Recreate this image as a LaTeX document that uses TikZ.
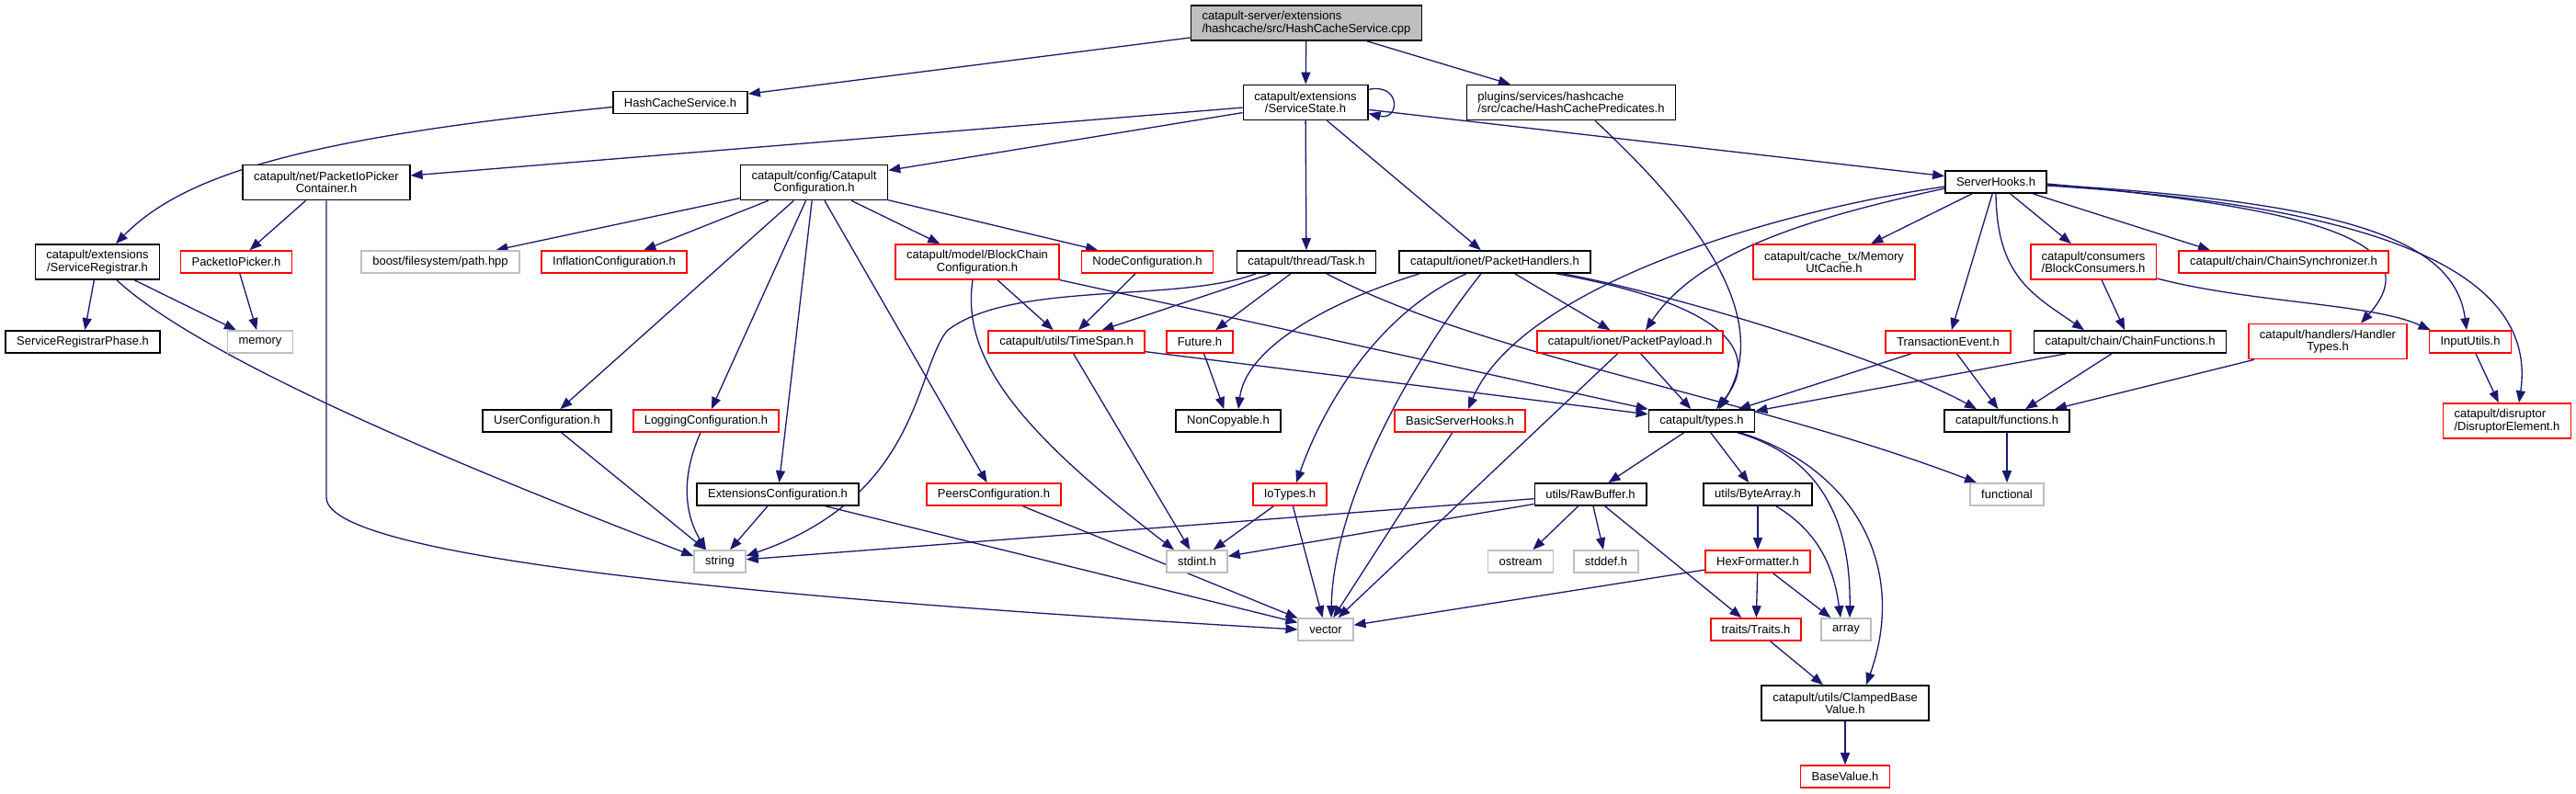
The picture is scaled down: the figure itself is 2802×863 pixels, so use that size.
\documentclass[tikz,border=0pt]{standalone}
\usepackage{fontspec}
\setmainfont{Liberation Sans}
\usetikzlibrary{arrows.meta,calc}
\definecolor{edgec}{HTML}{191970}
\definecolor{grayb}{HTML}{BFBFBF}
\definecolor{redb}{HTML}{FF0000}
\newcommand\nfont{\fontsize{6.5pt}{6.65pt}\selectfont}
\pgfdeclarelayer{bg}
\pgfsetlayers{bg,main}
\tikzset{
  nb/.style={draw, line width=0.85pt, fill=white, inner xsep=6pt, inner ysep=1pt,
             minimum height=12pt, font=\nfont, text=black, align=center},
  blk/.style={nb, draw=black},
  rd/.style={nb, draw=redb},
  gr/.style={nb, draw=grayb},
  two/.style={minimum height=19pt},
  lft/.style={align=left},
  e/.style={draw=edgec, line width=0.65pt, -{Triangle[length=6.5pt,width=5pt]}},
}
\begin{document}
\begin{tikzpicture}[x=0.5pt,y=-0.5pt]
\useasboundingbox (0,0) rectangle (2802,863);
% row 0
\node[blk,two,lft,fill=grayb] (root) at (1421,25) {catapult-server/extensions\\/hashcache/src/HashCacheService.cpp};
% row 1
\node[blk] (hcs) at (740,111.5) {HashCacheService.h};
\node[blk,two] (ss) at (1420,111.5) {catapult/extensions\\/ServiceState.h};
\node[blk,two,lft] (hcp) at (1709,111.5) {plugins/services/hashcache\\/src/cache/HashCachePredicates.h};
% row 2
\node[blk,two] (pipc) at (355,198.5) {catapult/net/PacketIoPicker\\Container.h};
\node[blk,two] (cc) at (885.5,198.5) {catapult/config/Catapult\\Configuration.h};
\node[blk] (sh) at (2171,198) {ServerHooks.h};
% row 3
\node[blk,two] (sr) at (106,285) {catapult/extensions\\/ServiceRegistrar.h};
\node[rd] (pip) at (257,285) {PacketIoPicker.h};
\node[gr] (boost) at (479,285) {boost/filesystem/path.hpp};
\node[rd] (infl) at (668,285) {InflationConfiguration.h};
\node[rd,two] (bcc) at (1063,285) {catapult/model/BlockChain\\Configuration.h};
\node[rd] (nodec) at (1248,285) {NodeConfiguration.h};
\node[blk] (task) at (1421,285) {catapult/thread/Task.h};
\node[blk] (ph) at (1626,285) {catapult/ionet/PacketHandlers.h};
\node[rd,two] (mutc) at (1995,285) {catapult/cache\_tx/Memory\\UtCache.h};
\node[rd,two,lft] (bcons) at (2277,285) {catapult/consumers\\/BlockConsumers.h};
\node[rd] (csync) at (2484,285) {catapult/chain/ChainSynchronizer.h};
% row 4
\node[blk] (srp) at (90,372) {ServiceRegistrarPhase.h};
\node[gr] (mem) at (283,372) {memory};
\node[rd] (ts) at (1160,372) {catapult/utils/TimeSpan.h};
\node[rd] (fut) at (1305,372) {Future.h};
\node[rd] (pp) at (1773,372) {catapult/ionet/PacketPayload.h};
\node[rd] (te) at (2119,372) {TransactionEvent.h};
\node[blk] (cf) at (2317,372) {catapult/chain/ChainFunctions.h};
\node[rd,two] (ht) at (2532,371.5) {catapult/handlers/Handler\\Types.h};
\node[rd] (iu) at (2687,372) {InputUtils.h};
% row 5
\node[blk] (uc) at (595,458) {UserConfiguration.h};
\node[rd] (lc) at (768,458) {LoggingConfiguration.h};
\node[blk] (nc) at (1336,458) {NonCopyable.h};
\node[rd] (bsh) at (1588,458) {BasicServerHooks.h};
\node[blk] (types) at (1851,458) {catapult/types.h};
\node[blk] (fn) at (2183,458) {catapult/functions.h};
\node[rd,two,lft] (de) at (2727,458) {catapult/disruptor\\/DisruptorElement.h};
% row 6
\node[blk] (ec) at (846,538) {ExtensionsConfiguration.h};
\node[rd] (pc) at (1081,538) {PeersConfiguration.h};
\node[rd] (iot) at (1403,538) {IoTypes.h};
\node[blk] (rb) at (1730,538) {utils/RawBuffer.h};
\node[blk] (ba) at (1912,538) {utils/ByteArray.h};
\node[gr] (fnl) at (2183,538) {functional};
% row 7
\node[gr] (str) at (783,611) {string};
\node[gr] (sint) at (1302,611) {stdint.h};
\node[gr] (ost) at (1654,611) {ostream};
\node[gr] (sdef) at (1747,611) {stddef.h};
\node[rd] (hf) at (1912,611) {HexFormatter.h};
% row 8
\node[gr] (vec) at (1442,685) {vector};
\node[rd] (tr) at (1910,685) {traits/Traits.h};
\node[gr] (arr) at (2008,685) {array};
% row 9
\node[blk,two] (cbv) at (2007,765) {catapult/utils/ClampedBase\\Value.h};
\node[rd] (bv) at (2007,845) {BaseValue.h};

\begin{pgfonlayer}{bg}
% root
\draw[e] (root) -- (hcs);
\draw[e] (root) -- (ss);
\draw[e] (root) -- (hcp);
\draw[e] ($(hcs.west)+(0,5)$) .. controls (330,150) and (200,190) .. ($(sr.north)+(20,0)$);
% ServiceState
\draw[e] ($(ss.east)+(0,-14)$) .. controls +(35,-8) and +(35,8) .. ($(ss.east)+(0,12)$);
\draw[e] (ss) -- (pipc);
\draw[e] (ss) -- (cc);
\draw[e] (ss) -- (task);
\draw[e] (ss) -- (ph);
\draw[e] (ss) -- (sh);
\draw[e] ($(hcp.south)+(26,0)$) .. controls (1830,220) and (1935,340) .. ($(types.north)+(19,0)$);
% PacketIoPicker container
\draw[e] (pipc) -- (pip);
\draw[e] (pipc.south) -- ++(0,323) .. controls +(0,70) and (900,655) .. (vec.west);
% ServiceRegistrar
\draw[e] (sr) -- (srp);
\draw[e] (sr) -- (mem);
\draw[e] ($(sr.south)+(21,0)$) .. controls (230,400) and (560,530) .. ($(str.west)+(0,-6)$);
\draw[e] (pip) -- (mem);
% Catapult configuration
\foreach \t in {boost,infl,uc,lc,ec,pc,bcc,nodec} \draw[e] (cc) -- (\t);
% BlockChain configuration
\draw[e] (bcc) -- (ts);
\draw[e] ($(bcc.south)+(-5,0)$) .. controls (1045,390) and (1110,470) .. ($(sint.north)+(-25,0)$);
\draw[e] (bcc) -- (types);
\draw[e] (nodec) -- (ts);
% Task
\draw[e] (task) -- (ts);
\draw[e] (task) -- (fut);
\draw[e] ($(task.south)+(-55,0)$) .. controls (1280,330) and (1100,305) .. (1030,360) .. controls (995,405) and (1000,540) .. ($(str.east)+(0,-6)$);
\draw[e] ($(task.south)+(22,0)$) .. controls (1620,390) and (1900,430) .. ($(fnl.north)+(-33,0)$);
% PacketHandlers
\draw[e] ($(ph.south)+(-82,0)$) .. controls (1440,330) and (1355,380) .. ($(nc.north)+(11,0)$);
\draw[e] ($(ph.south)+(-31,0)$) .. controls (1500,340) and (1440,440) .. ($(iot.north)+(7,0)$);
\draw[e] ($(ph.south)+(-15,0)$) .. controls (1530,400) and (1450,550) .. ($(vec.north)+(6,0)$);
\draw[e] (ph) -- (pp);
\draw[e] ($(ph.south)+(67,0)$) .. controls (1870,330) and (1920,380) .. ($(types.north)+(16,0)$);
\draw[e] ($(ph.south)+(74,0)$) .. controls (1820,320) and (2050,390) .. ($(fn.north)+(-33,0)$);
% TimeSpan, Future, PacketPayload
\draw[e] (ts) -- (sint);
\draw[e] (ts) -- (types);
\draw[e] (fut) -- (nc);
\draw[e] (pp) -- (types);
\draw[e] (pp) -- (vec);
% ServerHooks
\draw[e] ($(sh.west)+(0,5)$) .. controls (1900,235) and (1650,320) .. ($(bsh.north)+(9,0)$);
\draw[e] ($(sh.west)+(0,7)$) .. controls (1980,235) and (1850,270) .. ($(pp.north)+(17,0)$);
\draw[e] (sh) -- (mutc);
\draw[e] (sh) -- (te);
\draw[e] (sh.south) .. controls (2172,300) and (2210,320) .. ($(cf.north)+(-50,0)$);
\draw[e] (sh) -- (bcons);
\draw[e] (sh) -- ($(csync.north)+(-80,0)$);
\draw[e] ($(sh.east)+(0,2)$) .. controls (2500,225) and (2650,260) .. ($(ht.north)+(36,0)$);
\draw[e] ($(sh.east)+(0,3)$) .. controls (2550,220) and (2670,260) .. ($(iu.north)+(-4,0)$);
\draw[e] ($(sh.east)+(0,4)$) .. controls (2600,225) and (2760,300) .. ($(de.north)+(13,0)$);
% BlockConsumers etc.
\draw[e] (bcons) -- (cf);
\draw[e] ($(bcons.east)+(0,18)$) .. controls (2450,330) and (2580,330) .. ($(iu.north west)+(2,0)$);
\draw[e] (te) -- (types);
\draw[e] (te) -- (fn);
\draw[e] (cf) -- (types);
\draw[e] (cf) -- (fn);
\draw[e] (ht) -- (fn);
\draw[e] (iu) -- (de);
\draw[e] (fn) -- (fnl);
% configurations
\draw[e] (uc) -- (str);
\draw[e] ($(lc.south)+(-6,0)$) .. controls (740,520) and (745,560) .. ($(str.north)+(-15,0)$);
\draw[e] (ec) -- (str);
\draw[e] (ec) -- (vec);
\draw[e] (pc) -- (vec);
\draw[e] (iot) -- (sint);
\draw[e] (iot) -- (vec);
\draw[e] (bsh) -- (vec);
% types
\draw[e] (types) -- (rb);
\draw[e] (types) -- (ba);
\draw[e] ($(types.south)+(39,0)$) .. controls (1990,500) and (2013,580) .. ($(arr.north)+(4,0)$);
\draw[e] ($(types.south)+(42,0)$) .. controls (2020,510) and (2075,620) .. ($(cbv.north)+(23,0)$);
% RawBuffer
\draw[e] (rb) -- (str);
\draw[e] (rb) -- (sint);
\draw[e] (rb) -- (ost);
\draw[e] (rb) -- (sdef);
\draw[e] (rb) -- (tr);
% ByteArray, HexFormatter
\draw[e] (ba) -- (hf);
\draw[e] ($(ba.south)+(20,0)$) .. controls (1980,580) and (1995,620) .. ($(arr.north)+(-6,0)$);
\draw[e] (hf) -- (tr);
\draw[e] (hf) -- (arr);
\draw[e] (hf) -- (vec);
\draw[e] (tr) -- (cbv);
\draw[e] (cbv) -- (bv);
\end{pgfonlayer}
\end{tikzpicture}
\end{document}
